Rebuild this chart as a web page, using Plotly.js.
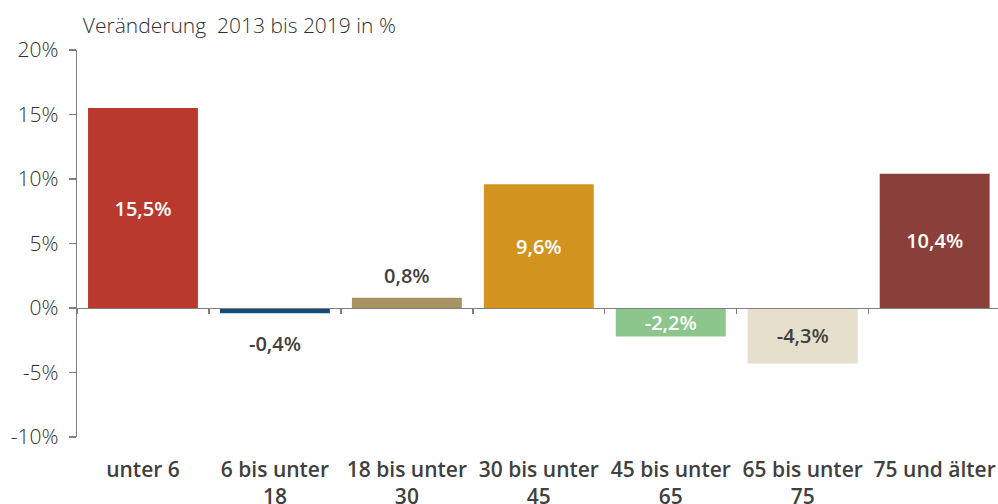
<!DOCTYPE html>
<html>
<head>
<meta charset="utf-8">
<script src="https://cdn.plot.ly/plotly-3.0.1.min.js"></script>
<style>html,body{margin:0;padding:0;background:#fff;}#chart{width:998px;height:504px;}</style>
</head>
<body>
<div id="chart"></div>
<script>
// ---- data ----
const categories = ["unter 6", "6 bis unter<br>18", "18 bis unter<br>30", "30 bis unter<br>45", "45 bis unter<br>65", "65 bis unter<br>75", "75 und älter"];
const values = [15.5, -0.4, 0.8, 9.6, -2.2, -4.3, 10.4];
const labels = ["15,5%", "-0,4%", "0,8%", "9,6%", "-2,2%", "-4,3%", "10,4%"];
const barColors = ["#BA392E", "#154B7B", "#A59362", "#D3931F", "#8DC68D", "#E6DFCB", "#8B3F3A"];
const labelInside = [true, false, false, true, true, true, true];
const labelColors = ["#ffffff", "#404040", "#404040", "#ffffff", "#ffffff", "#404040", "#ffffff"];
const yTickVals = [-10, -5, 0, 5, 10, 15, 20];
const yTickText = ["-10%", "-5%", "0%", "5%", "10%", "15%", "20%"];
const titleText = "Veränderung  2013 bis 2019 in %";

const textColor = "#404040";
const axisColor = "#7f7f7f";
const font = "'Open Sans', 'Noto Sans', sans-serif";

const barTrace = {
  type: "bar",
  x: categories,
  y: values,
  marker: {color: barColors, line: {width: 0}},
  text: labels.map((t, i) => labelInside[i] ? t : ""),
  textposition: "inside",
  insidetextanchor: "middle",
  constraintext: "none",
  textfont: {family: font, size: 20, weight: 600, color: labelColors},
  cliponaxis: false,
  hoverinfo: "skip",
  xaxis: "x",
  yaxis: "y"
};

// invisible trace for the axis at zero (boundary ticks)
const zeroTrace = {
  type: "bar",
  x: categories,
  y: values,
  marker: {color: "rgba(0,0,0,0)"},
  hoverinfo: "skip",
  showlegend: false,
  xaxis: "x2",
  yaxis: "y"
};

const annotations = [];
values.forEach((v, i) => {
  if (!labelInside[i]) {
    annotations.push({
      x: categories[i], y: v, xref: "x", yref: "y",
      text: labels[i], showarrow: false,
      yanchor: v >= 0 ? "bottom" : "top",
      yshift: v >= 0 ? 7 : -15,
      font: {family: font, size: 20, weight: 600, color: labelColors[i]}
    });
  }
});

const layout = {
  width: 998, height: 504,
  margin: {l: 77, r: 0, t: 50, b: 67},
  paper_bgcolor: "#ffffff", plot_bgcolor: "#ffffff",
  showlegend: false,
  bargap: 0.167,
  font: {family: font, color: textColor},
  title: {
    text: titleText,
    font: {family: font, size: 21, weight: 300, color: "#303030"},
    xref: "container", x: 0.083, xanchor: "left",
    yref: "container", y: 0.95, yanchor: "middle"
  },
  xaxis: {
    type: "category",
    range: [-0.5, 6.48],
    showline: false, showgrid: false, zeroline: false,
    ticks: "",
    tickfont: {family: font, size: 21, weight: 600, color: textColor},
    ticklabelstandoff: 18,
    fixedrange: true
  },
  xaxis2: {
    type: "category",
    overlaying: "x",
    matches: "x",
    anchor: "free",
    position: 1/3,
    side: "bottom",
    showline: true, linecolor: axisColor, linewidth: 1.3,
    showgrid: false, zeroline: false,
    ticks: "outside", tickson: "boundaries", ticklen: 5, tickcolor: axisColor, tickwidth: 1.3,
    showticklabels: false
  },
  yaxis: {
    range: [-10, 20],
    tickvals: yTickVals,
    ticktext: yTickText,
    showline: true, linecolor: axisColor, linewidth: 1.3,
    ticks: "outside", ticklen: 7, tickcolor: axisColor, tickwidth: 1.3,
    showgrid: false, zeroline: false,
    tickfont: {family: font, size: 21, weight: 300, color: "#303030"},
    ticklabelstandoff: 6,
    fixedrange: true
  },
  annotations: annotations
};

Plotly.newPlot("chart", [barTrace, zeroTrace], layout, {displayModeBar: false, staticPlot: true});
</script>
</body>
</html>
